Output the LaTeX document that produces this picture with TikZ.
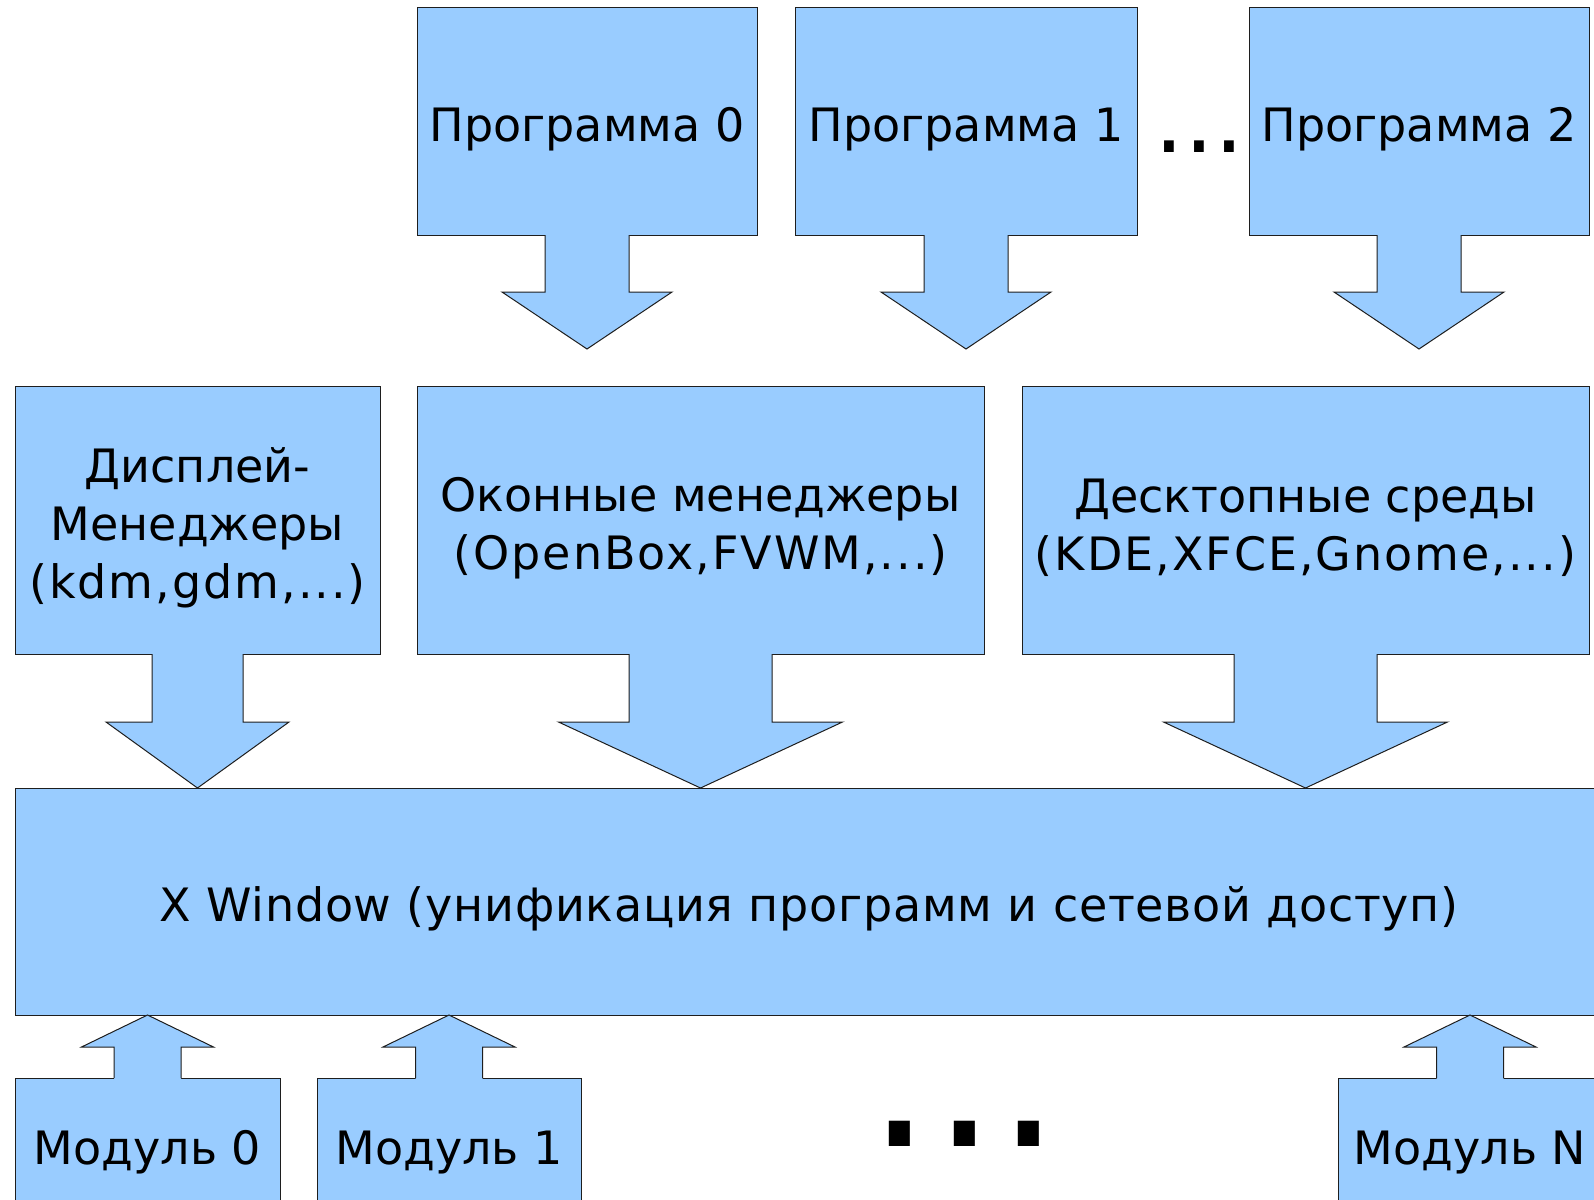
\documentclass[tikz,border=0pt]{standalone}
\usepackage{fontspec}
\setmainfont{DejaVu Sans}
\usetikzlibrary{calc}

\definecolor{boxblue}{RGB}{153,204,255}
\definecolor{edgegray}{RGB}{30,30,30}

\newcommand{\wideline}[2]{{\addfontfeature{LetterSpace=#1}#2}}
\newcommand{\topline}{\rule{0pt}{50pt}}

\tikzset{
  block/.style={draw=edgegray, line width=1pt, fill=boxblue, inner sep=0pt,
    outer sep=0pt, align=center, font=\fontsize{46}{58}\selectfont},
  edge/.style={draw=edgegray, line width=1pt, line join=miter},
  dotrow/.style={inner sep=0pt, outer sep=0pt, anchor=base},
}

% block arrow below a box: node, shaft half, head half, shaft length, head length
\newcommand{\blockdown}[5]{%
  \fill[boxblue] ($(#1.south)+(-#2,-2)$) -- ($(#1.south)+(-#2,#4)$)
    -- ($(#1.south)+(-#3,#4)$) -- ($(#1.south)+(0,#4+#5)$)
    -- ($(#1.south)+(#3,#4)$) -- ($(#1.south)+(#2,#4)$)
    -- ($(#1.south)+(#2,-2)$) -- cycle;
  \draw[edge] ($(#1.south)+(-#2,0)$) -- ($(#1.south)+(-#2,#4)$)
    -- ($(#1.south)+(-#3,#4)$) -- ($(#1.south)+(0,#4+#5)$)
    -- ($(#1.south)+(#3,#4)$) -- ($(#1.south)+(#2,#4)$)
    -- ($(#1.south)+(#2,0)$);}
% block arrow above a box
\newcommand{\blockup}[5]{%
  \fill[boxblue] ($(#1.north)+(-#2,2)$) -- ($(#1.north)+(-#2,-#4)$)
    -- ($(#1.north)+(-#3,-#4)$) -- ($(#1.north)+(0,-#4-#5)$)
    -- ($(#1.north)+(#3,-#4)$) -- ($(#1.north)+(#2,-#4)$)
    -- ($(#1.north)+(#2,2)$) -- cycle;
  \draw[edge] ($(#1.north)+(-#2,0)$) -- ($(#1.north)+(-#2,-#4)$)
    -- ($(#1.north)+(-#3,-#4)$) -- ($(#1.north)+(0,-#4-#5)$)
    -- ($(#1.north)+(#3,-#4)$) -- ($(#1.north)+(#2,-#4)$)
    -- ($(#1.north)+(#2,0)$);}

\begin{document}
\begin{tikzpicture}[x=1pt, y=-1pt]
    \useasboundingbox (0,0) rectangle (1594,1199);
    \clip (0,0) rectangle (1594,1199);
    %% Programs
    \node[block, minimum width=340pt, minimum height=227pt] (prog0) at (587,121.5) {\topline Программа 0};
    \node[block, minimum width=342pt, minimum height=227pt] (prog1) at (966,121.5) {\topline Программа 1};
    \node[block, minimum width=340pt, minimum height=227pt] (prog2) at (1419,121.5) {\topline Программа 2};
    \node[dotrow, font=\fontsize{94}{94}\selectfont] (progdots) at (1199.5,152) {...};
    %% Managers and desktops
    \node[block, minimum width=365pt, minimum height=268pt] (dispm) at (197.5,520) {\topline Дисплей-\\Менеджеры\\\wideline{4.3}{(kdm,gdm,...)}};
    \node[block, minimum width=567pt, minimum height=268pt] (winm) at (700.5,520) {\topline Оконные менеджеры\\\wideline{4.3}{(OpenBox,FVWM,...)}};
    \node[block, minimum width=567pt, minimum height=268pt] (desk) at (1305.5,520) {\topline Десктопные среды\\\wideline{4.3}{(KDE,XFCE,Gnome,...)}};
    %% X Window
    \node[block, minimum width=1588pt, minimum height=227pt] (xwin) at (809,901.5) {\topline\wideline{1.6}{X Window (унификация программ и сетевой доступ)}};
    %% Modules
    \node[block, minimum width=265pt, minimum height=132pt] (mod0) at (147.5,1144) {\topline Модуль 0};
    \node[block, minimum width=264pt, minimum height=132pt] (mod1) at (449,1144) {\topline Модуль 1};
    \node[block, minimum width=264pt, minimum height=132pt] (modN) at (1470,1144) {\topline Модуль N};
    \node[dotrow, font=\fontsize{204}{204}\selectfont] (moddots) at (964.5,1146) {...};
    %% Arrows
    \blockdown{prog0}{42}{85}{57}{57}
    \blockdown{prog1}{42}{85}{57}{57}
    \blockdown{prog2}{42}{85}{57}{57}
    \blockdown{dispm}{45.5}{91.5}{68}{66}
    \blockdown{winm}{71.5}{142}{68}{66}
    \blockdown{desk}{71.5}{142}{68}{66}
    \blockup{mod0}{33.5}{66}{31}{32}
    \blockup{mod1}{33.5}{66}{31}{32}
    \blockup{modN}{33.5}{66}{31}{32}
\end{tikzpicture}
\end{document}
